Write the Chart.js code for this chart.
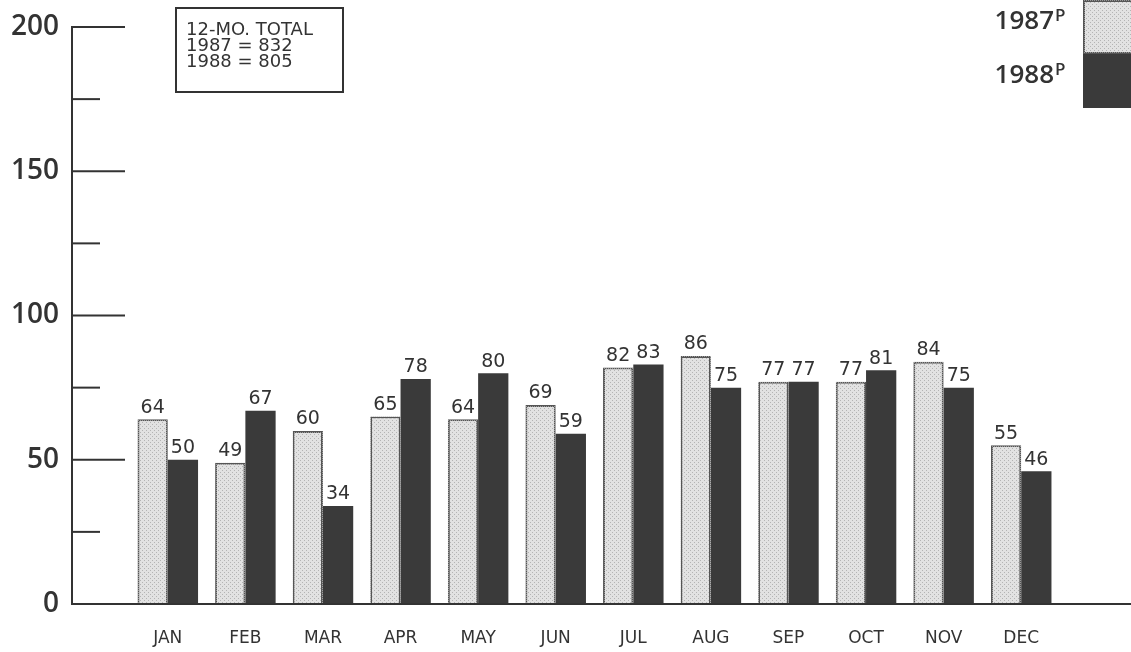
<!DOCTYPE html>
<html>
<head>
<meta charset="utf-8">
<script src="https://cdn.jsdelivr.net/npm/chart.js@4/dist/chart.umd.min.js"></script>
<style>
  html, body { margin: 0; padding: 0; background: #fff; }
  #wrap { position: relative; width: 1131px; height: 652px; }
</style>
</head>
<body>
<div id="wrap"><canvas id="chart" width="1131" height="652"></canvas></div>
<script>
const months = ["JAN", "FEB", "MAR", "APR", "MAY", "JUN", "JUL", "AUG", "SEP", "OCT", "NOV", "DEC"];
const values1987 = [64, 49, 60, 65, 64, 69, 82, 86, 77, 77, 84, 55];
const values1988 = [50, 67, 34, 78, 80, 59, 83, 75, 77, 81, 75, 46];
const yTicks = [0, 50, 100, 150, 200];
const yMinorTicks = [25, 75, 125, 175];
const totalLines = ["12-MO. TOTAL", "1987 = 832", "1988 = 805"];

const FONT = "'Open Sans', 'DejaVu Sans', sans-serif";
const WIDE = "'DejaVu Sans', sans-serif";
const INK = "#333333";
const DARK = "#3a3a3a";

// dotted light fill for the 1987 bars
function makePattern(base, dot, size) {
    const c = document.createElement("canvas");
    c.width = size; c.height = size;
    const g = c.getContext("2d");
    g.fillStyle = base;
    g.fillRect(0, 0, size, size);
    g.fillStyle = dot;
    g.fillRect(0, 0, 1, 1);
    g.fillRect(2, 2, 1, 1);
    return g.createPattern(c, "repeat");
}

const ctx = document.getElementById("chart").getContext("2d");
const lightFill = makePattern("#e2e2e2", "#b4b4b4", 4);
const lightBorder = makePattern("#555555", "#9a9a9a", 2);

// axes, tick marks, value labels, totals box and legend
const decorations = {
    id: "decorations",
    afterDatasetsDraw(chart) {
        const g = chart.ctx;
        const y = chart.scales.y;
        const axisX = 72;
        g.save();

        // value labels above bars
        g.fillStyle = INK;
        g.font = "19px " + WIDE;
        g.textAlign = "center";
        g.textBaseline = "bottom";
        chart.data.datasets.forEach((ds, i) => {
            chart.getDatasetMeta(i).data.forEach((bar, j) => {
                g.fillText(String(ds.data[j]), bar.x, bar.y - 2);
            });
        });

        // axis lines
        g.strokeStyle = INK;
        g.lineWidth = 2;
        g.beginPath();
        g.moveTo(axisX, y.getPixelForValue(0));
        g.lineTo(axisX, y.getPixelForValue(200) - 1);
        g.moveTo(axisX - 1, y.getPixelForValue(0));
        g.lineTo(chart.width, y.getPixelForValue(0));
        g.stroke();

        // tick marks and labels
        g.font = "600 28px " + FONT;
        g.textAlign = "right";
        g.textBaseline = "middle";
        yTicks.forEach(v => {
            const py = y.getPixelForValue(v);
            if (v > 0) {
                g.beginPath();
                g.moveTo(axisX, py);
                g.lineTo(axisX + 53, py);
                g.stroke();
            }
            g.fillText(String(v), 59, py);
        });
        yMinorTicks.forEach(v => {
            const py = y.getPixelForValue(v);
            g.beginPath();
            g.moveTo(axisX, py);
            g.lineTo(axisX + 28, py);
            g.stroke();
        });

        // 12-month totals box
        g.lineWidth = 2;
        g.strokeRect(176, 8, 167, 84);
        g.font = "18px " + WIDE;
        g.textAlign = "left";
        g.textBaseline = "middle";
        totalLines.forEach((t, k) => g.fillText(t, 186, 30 + k * 16));

        // legend at top right
        chart.data.datasets.forEach((ds, i) => {
            const top = i * 54;
            g.fillStyle = ds.backgroundColor;
            g.fillRect(1083, top, 48, 54);
            if (i === 0) {
                g.strokeStyle = lightBorder;
                g.lineWidth = 2;
                g.strokeRect(1084, top + 1, 48, 52);
            }
            g.fillStyle = INK;
            g.font = "600 26px " + FONT;
            g.textAlign = "right";
            g.textBaseline = "middle";
            g.fillText(ds.label, 1054, top + 22);
            g.font = "600 17px " + FONT;
            g.textAlign = "left";
            g.fillText("P", 1055, top + 16);
        });
        g.restore();
    }
};

new Chart(ctx, {
    type: "bar",
    data: {
        labels: months,
        datasets: [
            {
                label: "1987",
                data: values1987,
                backgroundColor: lightFill,
                borderColor: lightBorder,
                borderWidth: 2
            },
            {
                label: "1988",
                data: values1988,
                backgroundColor: DARK,
                borderWidth: 0
            }
        ]
    },
    options: {
        responsive: false,
        animation: false,
        layout: { padding: { left: 129, right: 71, top: 27, bottom: 0 } },
        categoryPercentage: 0.78,
        barPercentage: 1.0,
        plugins: {
            legend: { display: false },
            tooltip: { enabled: false }
        },
        scales: {
            x: {
                grid: { display: false },
                border: { display: false },
                afterFit(scale) { scale.height = 48; },
                ticks: {
                    color: INK,
                    padding: 16,
                    font: { family: WIDE, size: 17 }
                }
            },
            y: {
                display: false,
                min: 0,
                max: 200
            }
        }
    },
    plugins: [decorations]
});
</script>
</body>
</html>
